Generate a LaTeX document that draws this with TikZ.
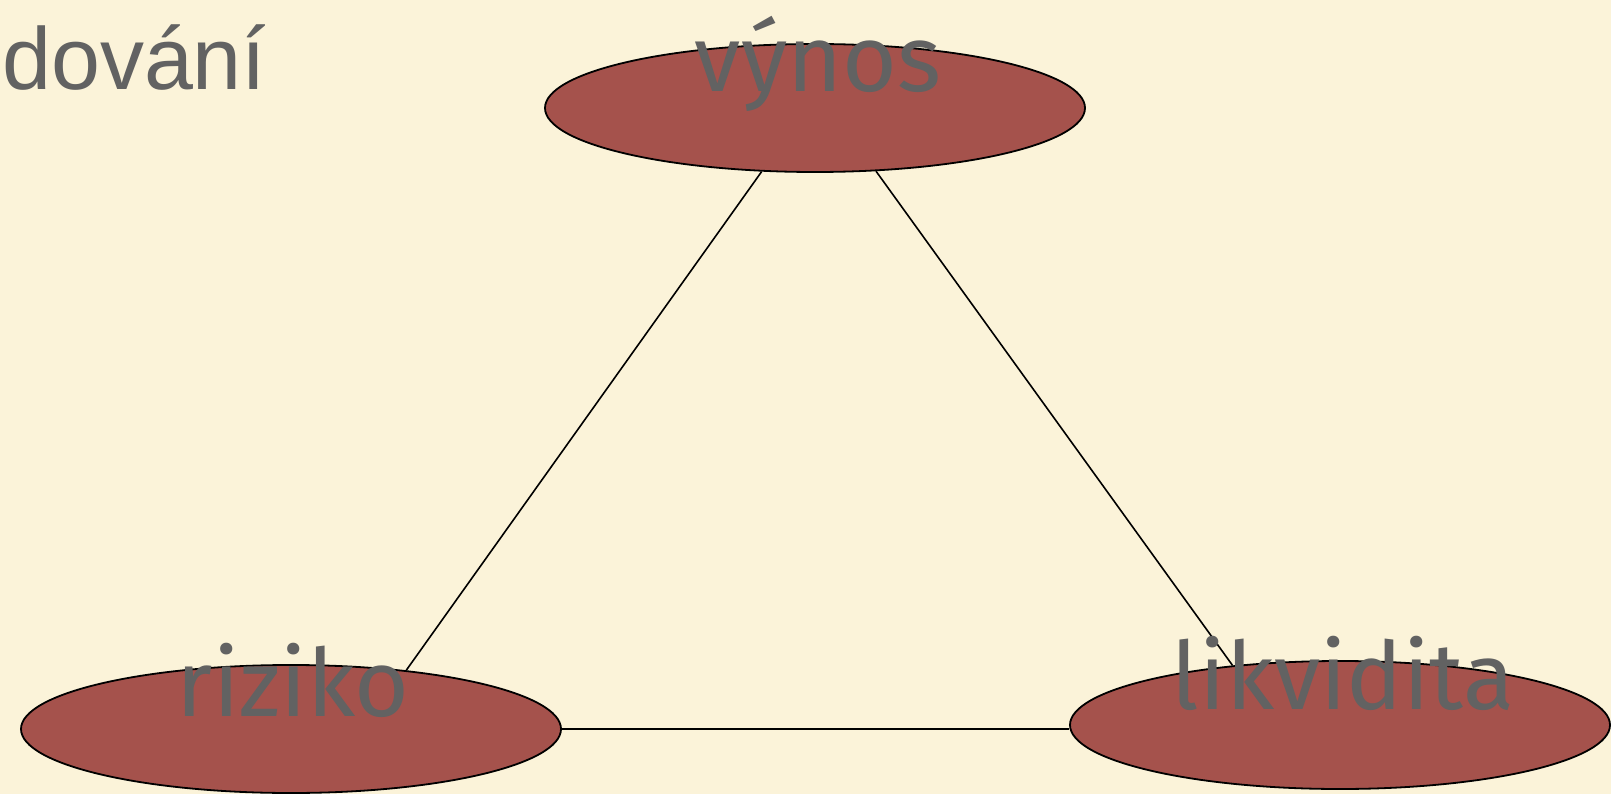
\documentclass[tikz,border=0pt]{standalone}
\usepackage{fontspec}
\setmainfont{Fira Sans}
\newfontfamily\arialfont{Liberation Sans}
\usetikzlibrary{shapes.geometric,calc}
\definecolor{bgcream}{HTML}{FBF3D9}
\definecolor{ovalfill}{HTML}{A5524C}
\definecolor{txtgrey}{HTML}{626262}
\tikzset{
  oval/.style={ellipse, draw=black, line width=1.8pt, fill=ovalfill, minimum width=540pt, minimum height=128pt, inner sep=0pt},
  lbl/.style={text=txtgrey, font=\fontsize{94}{100}\selectfont, anchor=base, inner sep=0pt},
  link/.style={draw=black, line width=1.6pt}
}
\begin{document}
\begin{tikzpicture}[x=1pt,y=1pt]
\fill[bgcream] (0,0) rectangle (1611,-794);
\useasboundingbox (0,0) rectangle (1611,-794);
\node[anchor=base west, inner sep=0pt, text=txtgrey, font=\arialfont\fontsize{88}{96}\selectfont] (title) at (2,-90) {dování};
\node[oval] (top) at (815,-108) {};
\node[oval] (left) at (291,-729) {};
\node[oval] (right) at (1340,-725) {};
\draw[link] (top.230) -- (left.27);
\draw[link] (top.314) -- (right.151);
\draw[link] (left.east) -- (left.east -| right.west);
\node[lbl] (tvynos) at ($(top.center)+(3,16)$) {výnos};
\node[lbl] (triziko) at ($(left.center)+(2,13)$) {riziko};
\node[lbl] (tlikvidita) at ($(right.center)+(3,16)$) {likvidita};
\end{tikzpicture}
\end{document}
